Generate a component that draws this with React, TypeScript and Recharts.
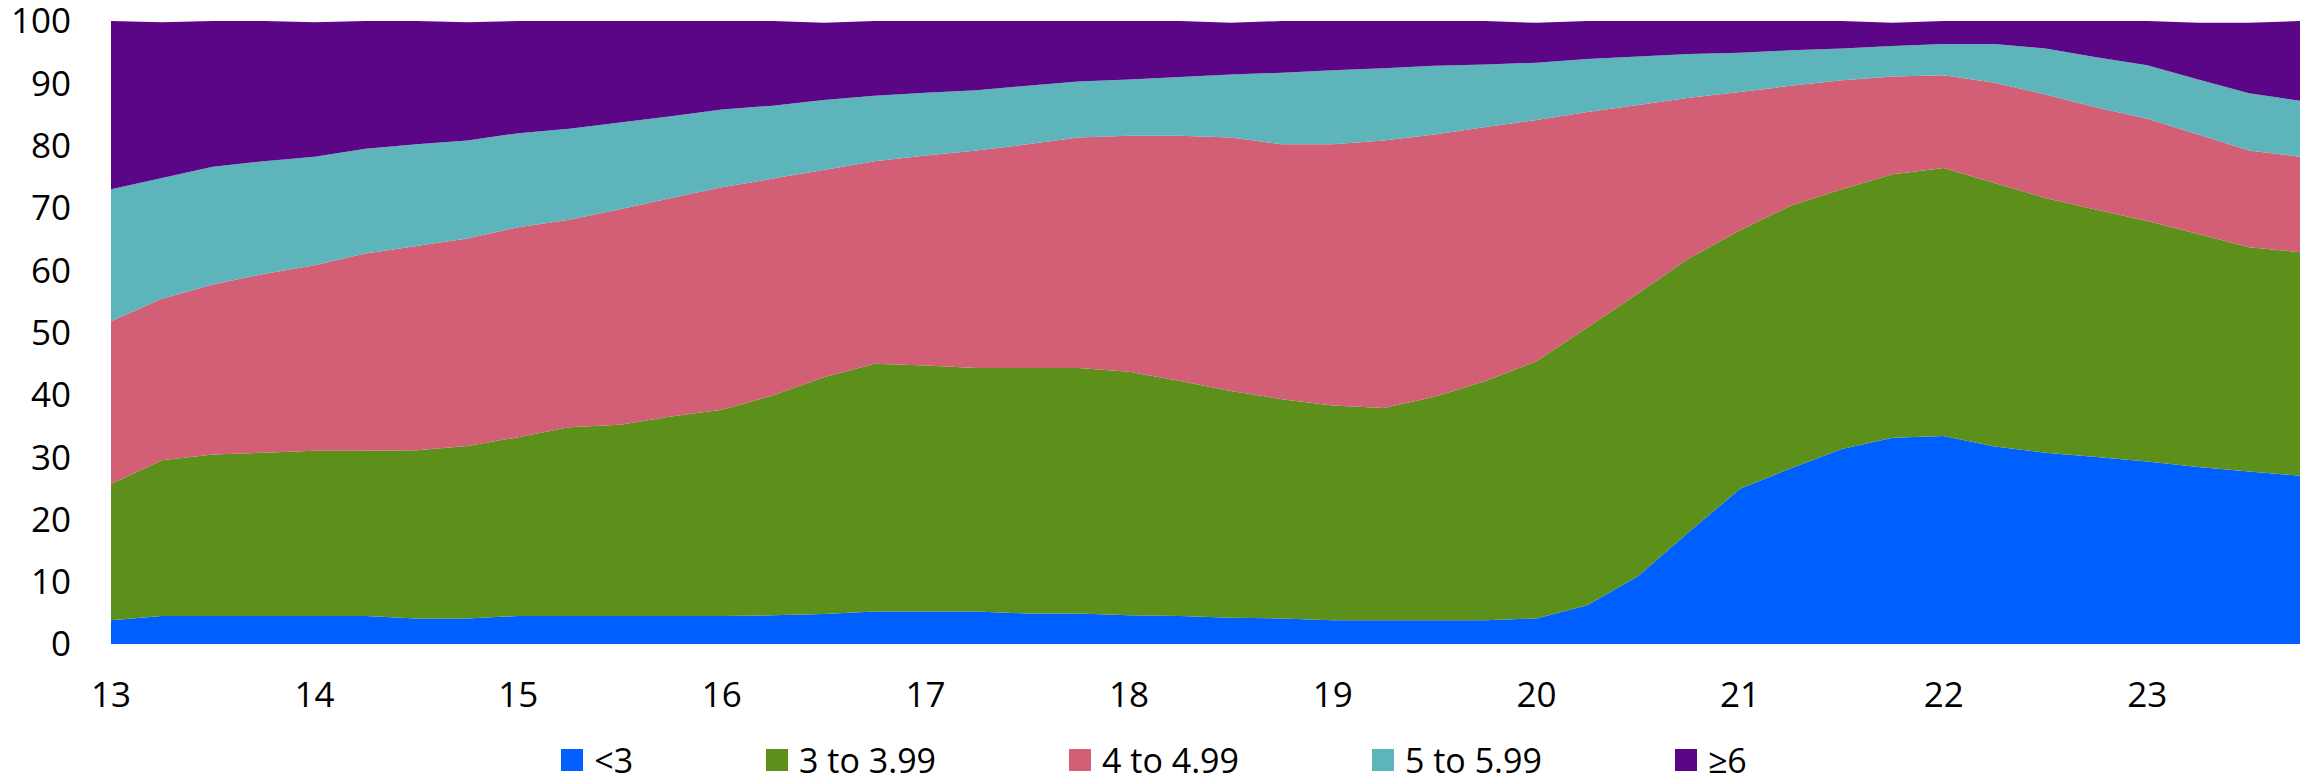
import React from "react";
import { AreaChart, Area, XAxis, YAxis, Legend } from "recharts";

const quarters = [
  13, 13.25, 13.5, 13.75, 14, 14.25, 14.5, 14.75, 15, 15.25, 15.5, 15.75,
  16, 16.25, 16.5, 16.75, 17, 17.25, 17.5, 17.75, 18, 18.25, 18.5, 18.75,
  19, 19.25, 19.5, 19.75, 20, 20.25, 20.5, 20.75, 21, 21.25, 21.5, 21.75,
  22, 22.25, 22.5, 22.75, 23, 23.25, 23.5, 23.75,
];

const lt3 = [
  3.8, 4.5, 4.5, 4.5, 4.5, 4.5, 4.1, 4.1, 4.5, 4.5, 4.5, 4.5,
  4.5, 4.6, 4.8, 5.2, 5.2, 5.2, 4.9, 4.9, 4.6, 4.5, 4.2, 4.1,
  3.8, 3.8, 3.8, 3.8, 4.1, 6.2, 10.9, 18.0, 24.9, 28.2, 31.3, 33.1,
  33.4, 31.7, 30.7, 30.0, 29.3, 28.4, 27.7, 27.0,
];
const to399 = [
  21.9, 25.0, 25.9, 26.2, 26.5, 26.5, 27.0, 27.7, 28.7, 30.3, 30.7, 32.0,
  33.1, 35.3, 38.0, 39.8, 39.5, 39.1, 39.4, 39.4, 39.1, 37.7, 36.4, 35.2,
  34.5, 34.1, 35.9, 38.4, 41.3, 44.6, 45.4, 43.9, 41.5, 42.2, 41.7, 42.3,
  43.0, 42.3, 40.9, 39.7, 38.6, 37.4, 36.0, 35.9,
];
const to499 = [
  26.1, 25.9, 27.3, 28.7, 29.8, 31.7, 32.8, 33.3, 33.7, 33.3, 34.6, 35.1,
  35.7, 34.8, 33.3, 32.5, 33.7, 34.9, 35.9, 37.0, 37.9, 39.4, 40.7, 40.9,
  41.9, 42.9, 42.1, 40.8, 38.7, 34.6, 30.2, 25.8, 22.2, 19.2, 17.5, 15.7,
  14.9, 16.1, 16.6, 16.4, 16.4, 16.0, 15.5, 15.3,
];
const to599 = [
  21.2, 19.4, 18.9, 18.1, 17.4, 16.8, 16.3, 15.7, 15.1, 14.6, 13.9, 13.1,
  12.5, 11.7, 11.2, 10.5, 10.1, 9.7, 9.4, 9.0, 9.0, 9.4, 10.1, 11.5,
  11.9, 11.6, 11.0, 10.0, 9.2, 8.5, 7.8, 7.0, 6.3, 5.7, 5.1, 4.9,
  5.0, 6.2, 7.4, 8.1, 8.6, 8.8, 9.2, 9.0,
];
const ge6 = [
  27.0, 25.0, 23.4, 22.5, 21.6, 20.5, 19.8, 19.0, 18.0, 17.3, 16.3, 15.3,
  14.2, 13.6, 12.4, 12.0, 11.5, 11.1, 10.4, 9.7, 9.4, 9.0, 8.3, 8.3,
  7.9, 7.6, 7.2, 7.0, 6.4, 6.1, 5.7, 5.3, 5.1, 4.7, 4.4, 3.7,
  3.7, 3.7, 4.4, 5.8, 7.1, 9.1, 11.3, 12.8,
];

const xTicks = [13, 14, 15, 16, 17, 18, 19, 20, 21, 22, 23];
const yTicks = [0, 10, 20, 30, 40, 50, 60, 70, 80, 90, 100];

const seriesNames = ["<3", "3 to 3.99", "4 to 4.99", "5 to 5.99", "≥6"];
const seriesColors = ["#005FFF", "#5D901B", "#D25F75", "#5DB4BB", "#5A0687"];
const seriesValues = [lt3, to399, to499, to599, ge6];

const data = quarters.map((q, i) => {
  const row: Record<string, number> = { q };
  seriesNames.forEach((n, s) => {
    row[n] = seriesValues[s][i];
  });
  return row;
});

const FONT = "'Open Sans', 'Noto Sans', sans-serif";

const LegendContent = (props: any) => {
  const payload = [...(props.payload || [])].sort(
    (a: any, b: any) => seriesNames.indexOf(a.value) - seriesNames.indexOf(b.value)
  );
  return (
    <div
      style={{
        display: "flex",
        justifyContent: "center",
        alignItems: "center",
        height: 40,
        fontFamily: FONT,
        fontSize: 34,
        color: "#000",
      }}
    >
      {payload.map((entry: any, i: number) => (
        <div
          key={i}
          style={{
            display: "flex",
            alignItems: "center",
            marginRight: i < payload.length - 1 ? 133 : 0,
            whiteSpace: "nowrap",
          }}
        >
          <span
            style={{
              display: "inline-block",
              width: 22,
              height: 22,
              background: entry.color,
              marginRight: 11,
            }}
          />
          <span style={{ lineHeight: "40px" }}>{entry.value}</span>
        </div>
      ))}
    </div>
  );
};

export default function App() {
  return (
    <div
      style={{
        position: "absolute",
        left: 8,
        top: 8,
        width: 2299,
        height: 775,
      }}
    >
      <AreaChart
        width={2299}
        height={775}
        data={data}
        margin={{ top: 13, right: 7, bottom: 0, left: 0 }}
      >
        <XAxis
          dataKey="q"
          type="number"
          domain={[13, 23.75]}
          ticks={xTicks}
          axisLine={false}
          tickLine={false}
          tickSize={0}
          tickMargin={38}
          height={99}
          interval={0}
          tick={{ fill: "#000", fontSize: 35, fontFamily: FONT }}
        />
        <YAxis
          domain={[0, 100]}
          ticks={yTicks}
          axisLine={false}
          tickLine={false}
          tickSize={0}
          tickMargin={40}
          width={103}
          interval={0}
          tick={{ fill: "#000", fontSize: 35, fontFamily: FONT }}
        />
        <Legend
          verticalAlign="bottom"
          align="center"
          content={<LegendContent />}
          wrapperStyle={{ bottom: 3 }}
        />
        {seriesNames.map((n, s) => (
          <Area
            key={n}
            type="linear"
            dataKey={n}
            name={n}
            stackId="1"
            stroke="none"
            fill={seriesColors[s]}
            fillOpacity={1}
            isAnimationActive={false}
            dot={false}
            activeDot={false}
          />
        ))}
      </AreaChart>
    </div>
  );
}
